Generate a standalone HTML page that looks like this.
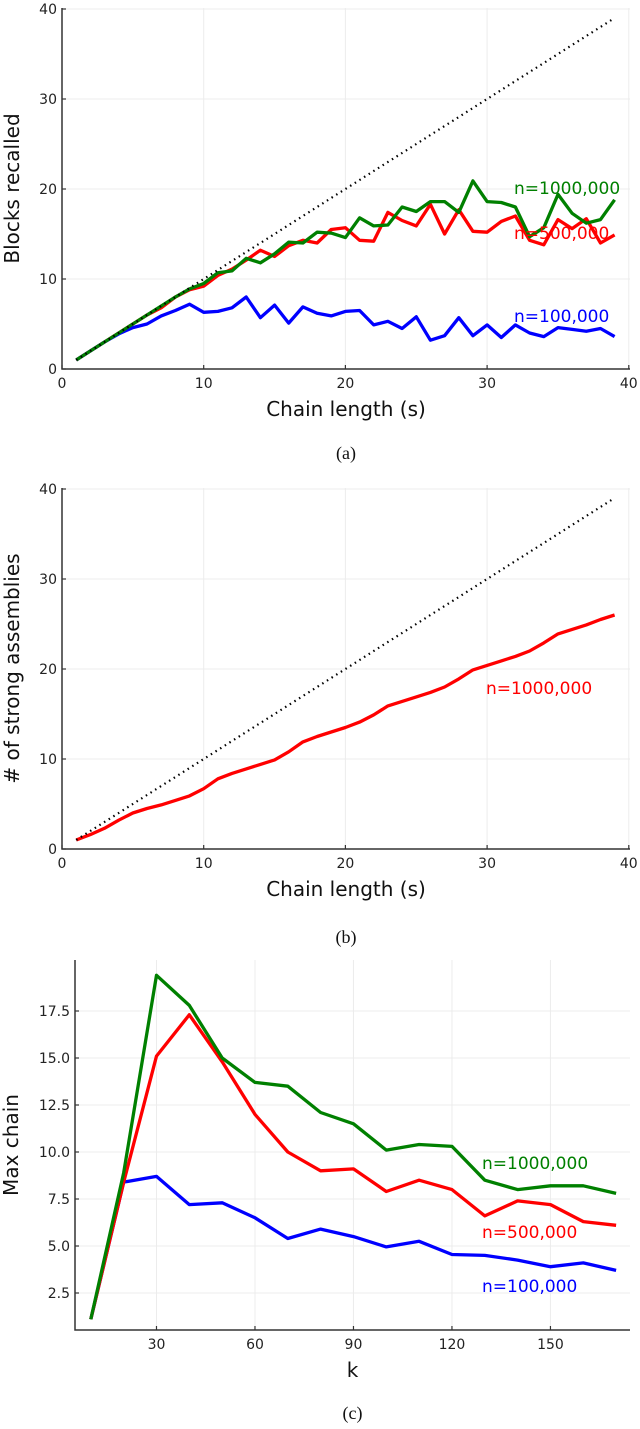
<!DOCTYPE html>
<html><head><meta charset="utf-8"><style>
body{margin:0;background:#fff;width:640px;height:1429px;overflow:hidden}
svg{display:block}
.tk{font-family:"DejaVu Sans","Liberation Sans",sans-serif;font-size:14px;fill:#222}
.at{font-family:"DejaVu Sans","Liberation Sans",sans-serif;font-size:20px;fill:#111}
.cap{font-family:"Liberation Serif",serif;font-size:18px;fill:#111}
.lb{font-family:"DejaVu Sans","Liberation Sans",sans-serif;font-size:17px}
</style></head><body>
<svg id="fig" width="640" height="1429" viewBox="0 0 640 1429"></svg>
<script>
const chainS = Array.from({length:39},(_,i)=>i+1);
const aGreen = [1.0,2.0,3.0,4.0,5.0,6.0,7.0,8.0,8.9,9.5,10.7,10.9,12.3,11.8,12.8,14.1,14.0,15.2,15.1,14.6,16.8,15.9,16.0,18.0,17.5,18.6,18.6,17.4,20.9,18.6,18.5,18.0,14.7,15.7,19.4,17.3,16.2,16.6,18.8];
const aRed = [1.0,2.0,3.0,4.0,5.0,6.0,6.8,8.0,8.8,9.2,10.4,11.1,12.1,13.2,12.5,13.7,14.3,14.0,15.5,15.7,14.3,14.2,17.4,16.5,15.9,18.3,15.0,17.7,15.3,15.2,16.4,17.0,14.3,13.8,16.6,15.6,16.7,14.0,14.9];
const aBlue = [1.0,2.0,3.0,3.9,4.6,5.0,5.9,6.5,7.2,6.3,6.4,6.8,8.0,5.7,7.1,5.1,6.9,6.2,5.9,6.4,6.5,4.9,5.3,4.5,5.8,3.2,3.7,5.7,3.7,4.9,3.5,4.9,4.0,3.6,4.6,4.4,4.2,4.5,3.6];
const bRed = [1,1.6,2.3,3.2,4.0,4.5,4.9,5.4,5.9,6.7,7.8,8.4,8.9,9.4,9.9,10.8,11.9,12.5,13.0,13.5,14.1,14.9,15.9,16.4,16.9,17.4,18.0,18.9,19.9,20.4,20.9,21.4,22.0,22.9,23.9,24.4,24.9,25.5,26.0];
const kVals = [10,20,30,40,50,60,70,80,90,100,110,120,130,140,150,160,170];
const cGreen = [1.1,8.9,19.4,17.8,15.0,13.7,13.5,12.1,11.5,10.1,10.4,10.3,8.5,8.0,8.2,8.2,7.8];
const cRed = [1.1,8.4,15.1,17.3,14.8,12.0,10.0,9.0,9.1,7.9,8.5,8.0,6.6,7.4,7.2,6.3,6.1];
const cBlue = [1.1,8.4,8.7,7.2,7.3,6.5,5.4,5.9,5.5,4.95,5.25,4.55,4.5,4.25,3.9,4.1,3.7];
const sTicks = [0,10,20,30,40];
const yTicksAB = [0,10,20,30,40];
const kTicks = [30,60,90,120,150];
const cYTicks = [2.5,5.0,7.5,10.0,12.5,15.0,17.5];

const NS="http://www.w3.org/2000/svg";
const svg=document.getElementById('fig');
function mk(tag,attrs,parent){const e=document.createElementNS(NS,tag);for(const k in attrs)e.setAttribute(k,attrs[k]);(parent||svg).appendChild(e);return e;}
function txt(s,x,y,cls,anchor,fill,name){const t=mk('text',{x:x,y:y,class:cls,'text-anchor':anchor||'middle'});if(fill)t.setAttribute('fill',fill);t.textContent=s;


return t;}
function line(xs,ys,X,Y,color,name,w,dash){const d=xs.map((v,i)=>(i?'L':'M')+X(v).toFixed(1)+','+Y(ys[i]).toFixed(1)).join('');
const p=mk('path',{d:d,fill:'none',stroke:color,'stroke-width':w||3.3,'stroke-linejoin':'round'});
if(dash)p.setAttribute('stroke-dasharray',dash);


return p;}

function panel(o){
  const g=mk('g',{});
  
  
  o.xt.forEach(v=>{mk('line',{x1:o.X(v),x2:o.X(v),y1:o.top,y2:o.bottom,stroke:'#ececec','stroke-width':1},g);
    mk('line',{x1:o.X(v),x2:o.X(v),y1:o.bottom,y2:o.bottom-4,stroke:'#333','stroke-width':1.2},g);
    txt(o.xfmt(v),o.X(v),o.bottom+19,'tk','middle',null,'x-tick-label');});
  o.yt.forEach(v=>{mk('line',{x1:o.left,x2:o.right,y1:o.Y(v),y2:o.Y(v),stroke:'#ececec','stroke-width':1},g);
    mk('line',{x1:o.left,x2:o.left+4,y1:o.Y(v),y2:o.Y(v),stroke:'#333','stroke-width':1.2},g);
    txt(o.yfmt(v),o.left-5,o.Y(v)+5,'tk','end',null,'y-tick-label');});
  const ax=mk('path',{d:`M${o.left},${o.top}L${o.left},${o.bottom}L${o.right},${o.bottom}`,fill:'none',stroke:'#333','stroke-width':1.5},g);
  
  
  txt(o.xtitle,(o.left+o.right)/2,o.bottom+47,'at','middle',null,'x-axis-title');
  const yt=txt(o.ytitle,0,0,'at','middle',null,'y-axis-title');
  yt.setAttribute('transform',`translate(${o.ytx},${(o.top+o.bottom)/2}) rotate(-90)`);
  txt(o.cap,(o.left+o.right)/2,o.capY,'cap','middle',null,'panel-caption');
}
// Panel a
const Xa=s=>62+14.17*s, Ya=v=>369-9*v;
panel({name:'panel-a',left:62,right:630,top:8,bottom:369,X:Xa,Y:Ya,xt:sTicks,yt:yTicksAB,xfmt:v=>v,yfmt:v=>v,xtitle:'Chain length (s)',ytitle:'Blocks recalled',ytx:19,cap:'(a)',capY:459});
line(aRed.map((v,i)=>chainS[i]),aRed,Xa,Ya,'#ff0000','line-n500000');
line(chainS,aBlue,Xa,Ya,'#0000ff','line-n100000');
line(chainS,aGreen,Xa,Ya,'#008000','line-n1000000');
line(chainS,chainS,Xa,Ya,'#000','diagonal-reference',2.2,'1.5,4');
txt('n=1000,000',514,194,'lb','start','#008000','label-n1000000');
txt('n=500,000',514,239,'lb','start','#ff0000','label-n500000');
txt('n=100,000',514,322,'lb','start','#0000ff','label-n100000');
// Panel b
const Yb=v=>849-9*v;
panel({name:'panel-b',left:62,right:630,top:488,bottom:849,X:Xa,Y:Yb,xt:sTicks,yt:yTicksAB,xfmt:v=>v,yfmt:v=>v,xtitle:'Chain length (s)',ytitle:'# of strong assemblies',ytx:19,cap:'(b)',capY:943});
line(chainS,bRed,Xa,Yb,'#ff0000','line-strong-assemblies');
line(chainS,chainS,Xa,Yb,'#000','diagonal-reference',2.2,'1.5,4');
txt('n=1000,000',486,694,'lb','start','#ff0000','label-n1000000');
// Panel c
const Xc=k=>58+3.283*k, Yc=v=>1293-(v-2.5)*18.8;
panel({name:'panel-c',left:75,right:630,top:960,bottom:1330,X:Xc,Y:Yc,xt:kTicks,yt:cYTicks,xfmt:v=>v,yfmt:v=>v.toFixed(1),xtitle:'k',ytitle:'Max chain',ytx:18,cap:'(c)',capY:1419});
line(kVals,cBlue,Xc,Yc,'#0000ff','line-n100000');
line(kVals,cRed,Xc,Yc,'#ff0000','line-n500000');
line(kVals,cGreen,Xc,Yc,'#008000','line-n1000000');
txt('n=1000,000',482,1169,'lb','start','#008000','label-n1000000');
txt('n=500,000',482,1238,'lb','start','#ff0000','label-n500000');
txt('n=100,000',482,1292,'lb','start','#0000ff','label-n100000');
</script>
</body></html>
